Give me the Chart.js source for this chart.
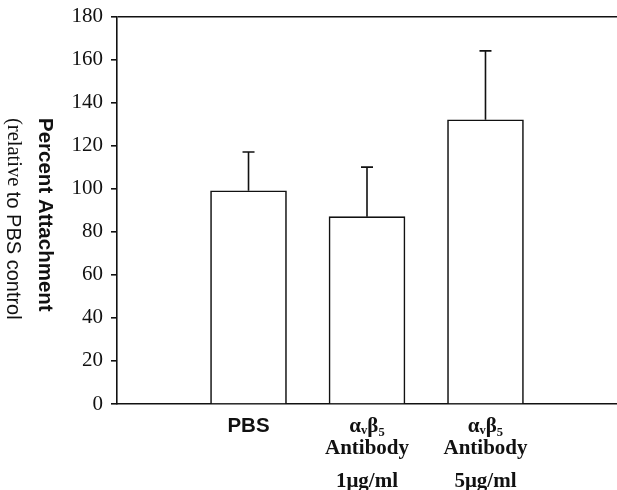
<!DOCTYPE html>
<html>
<head>
<meta charset="utf-8">
<script src="https://cdn.jsdelivr.net/npm/chart.js@4.4.1/dist/chart.umd.min.js"></script>
<style>
  html, body { margin: 0; padding: 0; background: #fff; }
  #wrap { width: 617px; height: 490px; position: relative; }
</style>
</head>
<body>
<div id="wrap"><canvas id="myChart"></canvas></div>
<script>
// data
const categories = ['PBS', 'avb5 1ug/ml', 'avb5 5ug/ml'];
const xLabels = [
    ['PBS'],
    ['αᵥβ₅', '', 'Antibody', '', '', '1μg/ml'],
    ['αᵥβ₅', '', 'Antibody', '', '', '5μg/ml']
];
const attachment = [99, 87, 132];
const errorUp = [18, 23, 32];
const yTicks = [0, 20, 40, 60, 80, 100, 120, 140, 160, 180];

const ink = '#111';
const serif = '"Liberation Serif", "Times New Roman", serif';
const sans = '"Liberation Sans", Arial, sans-serif';

// category i sits at x = i + 1 on a linear axis
const points = categories.map((c, i) => ({ x: i + 1, y: attachment[i] }));

const errorBars = {
    id: 'errorBars',
    afterDatasetsDraw(chart) {
        const ctx = chart.ctx;
        const yScale = chart.scales.y;
        const meta = chart.getDatasetMeta(0);
        ctx.save();
        ctx.strokeStyle = ink;
        ctx.lineWidth = 1.6;
        meta.data.forEach((bar, i) => {
            const top = yScale.getPixelForValue(attachment[i] + errorUp[i]);
            ctx.beginPath();
            ctx.moveTo(bar.x, bar.y);
            ctx.lineTo(bar.x, top);
            ctx.moveTo(bar.x - 6, top);
            ctx.lineTo(bar.x + 6, top);
            ctx.stroke();
        });
        ctx.restore();
    }
};

// y title reads top to bottom, so it is drawn by hand
const yTitle = {
    id: 'yTitle',
    afterDraw(chart) {
        const ctx = chart.ctx;
        const startY = 118;
        ctx.save();
        ctx.fillStyle = ink;
        ctx.textBaseline = 'middle';
        ctx.textAlign = 'left';

        ctx.save();
        ctx.translate(45, startY);
        ctx.rotate(Math.PI / 2);
        ctx.font = 'bold 20.5px ' + sans;
        ctx.fillText('Percent Attachment', 0, 0);
        ctx.restore();

        ctx.save();
        ctx.translate(13, startY);
        ctx.rotate(Math.PI / 2);
        ctx.font = '20.5px ' + serif;
        ctx.fillText('(relative', 0, 0);
        const w = ctx.measureText('(relative').width;
        ctx.font = '20px ' + sans;
        ctx.fillText(' to PBS control', w, 0);
        ctx.restore();

        ctx.restore();
    }
};

const ctx = document.getElementById('myChart').getContext('2d');
const chart = new Chart(ctx, {
    type: 'bar',
    data: {
        datasets: [{
            data: points,
            backgroundColor: '#fff',
            borderColor: ink,
            borderWidth: 1.6,
            barThickness: 76
        }]
    },
    options: {
        responsive: true,
        maintainAspectRatio: false,
        animation: false,
        layout: { padding: { top: 16, left: 0, right: 0, bottom: 0 } },
        plugins: {
            legend: { display: false },
            tooltip: { enabled: false }
        },
        scales: {
            x: {
                type: 'linear',
                offset: false,
                min: -0.11,
                max: 4.11,
                grid: { display: false, offset: false },
                border: { display: true, color: ink, width: 1.6 },
                afterBuildTicks: (scale) => {
                    scale.ticks = points.map(p => ({ value: p.x }));
                },
                afterFit: (scale) => { scale.height = 86; },
                ticks: {
                    autoSkip: false,
                    maxRotation: 0,
                    padding: 9,
                    color: ink,
                    font: (c) => c.index === 0
                        ? { family: sans, size: 20.5, weight: 'bold', lineHeight: '11px' }
                        : { family: serif, size: 21, weight: 'bold', lineHeight: '11px' },
                    callback: (value, index) => xLabels[index]
                }
            },
            y: {
                min: 0,
                max: 180,
                afterBuildTicks: (scale) => {
                    scale.ticks = yTicks.map(v => ({ value: v }));
                },
                afterFit: (scale) => { scale.width = 117; },
                grid: {
                    drawOnChartArea: true,
                    color: (c) => (c.tick && c.tick.value === 180) ? ink : 'rgba(0,0,0,0)',
                    lineWidth: 1.6,
                    tickColor: ink,
                    tickLength: 6
                },
                border: { display: true, color: ink, width: 1.6 },
                ticks: {
                    padding: 8,
                    color: ink,
                    font: { family: serif, size: 21, lineHeight: 0.8 }
                }
            }
        }
    },
    plugins: [errorBars, yTitle]
});
</script>
</body>
</html>
